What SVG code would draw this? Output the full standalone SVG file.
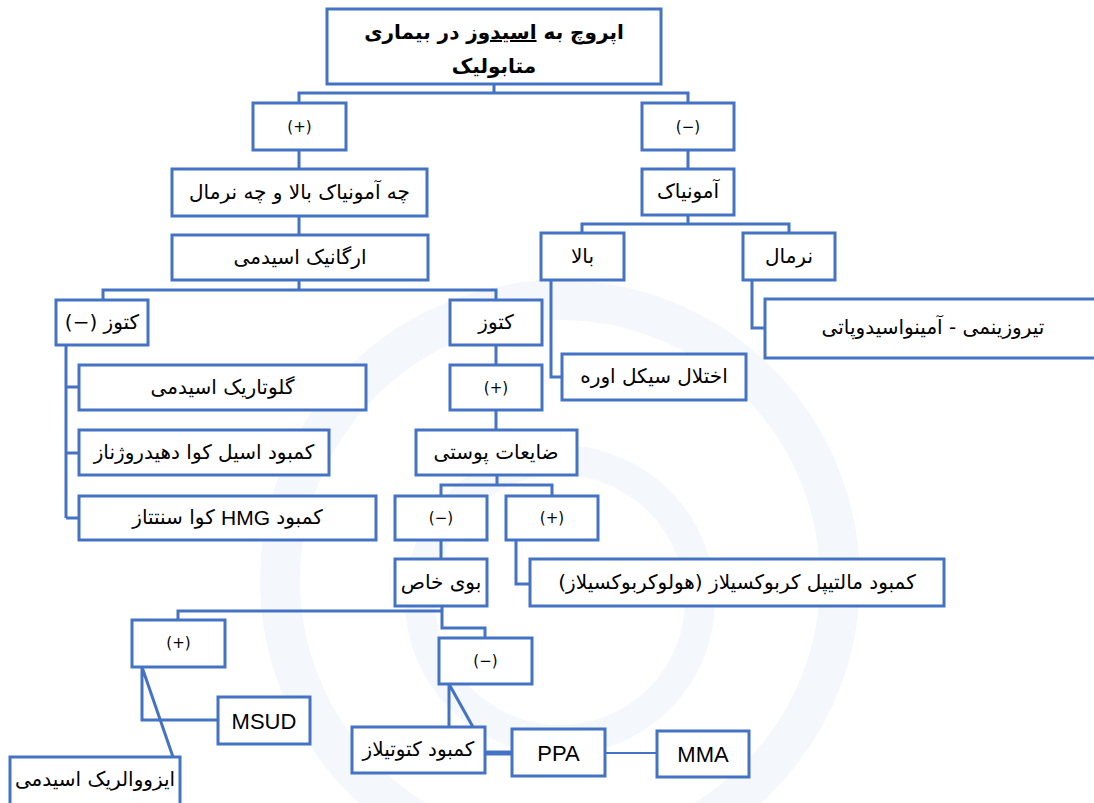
<svg xmlns="http://www.w3.org/2000/svg" width="1094" height="803" viewBox="0 0 1094 803">
<style>
.box{fill:#fff;stroke:#4472C4;stroke-width:3}
.con{fill:none;stroke:#4472C4;stroke-width:3}
.fa{font-family:"DejaVu Sans","Noto Sans",sans-serif;font-size:20px;fill:#000;text-anchor:middle;dominant-baseline:central;direction:rtl}
.sg{font-family:"DejaVu Sans",sans-serif;font-size:15px;fill:#000;text-anchor:middle;dominant-baseline:central}
.en{font-family:"Liberation Sans","DejaVu Sans",sans-serif;font-size:22px;fill:#000;text-anchor:middle;dominant-baseline:central}
.title{font-family:"DejaVu Sans","Noto Sans",sans-serif;font-size:20px;font-weight:bold;fill:#000;text-anchor:middle;direction:rtl}
</style>
<rect width="1094" height="803" fill="#fff"/>
<g id="watermark" fill="none" stroke="#f4f8fc">
<circle cx="560" cy="580" r="280" stroke-width="40"/>
<circle cx="560" cy="600" r="140" stroke-width="30"/>
</g>
<g id="connectors">
<path class="con" d="M494,84 V93 M299,103 V93 H688 V103"/>
<path class="con" d="M299,150 V169 M299,216 V235 M299,280 V290 M103,300 V290 H496 V300"/>
<path class="con" d="M496,345 V365 M496,410 V430 M497,475 V485 M441,496 V485 H552 V496"/>
<path class="con" d="M441,540 V559 M516,540 V584 H530"/>
<path class="con" d="M442,606 V628 H485 V638 M442,611 H178 V620"/>
<path class="con" d="M142,667 V720 H218 M142,667 L173,757"/>
<path class="con" d="M449,684 V727 M449,684 L473,727"/>
<path class="con" d="M485,753 H512" style="stroke-width:5"/>
<path class="con" d="M605,753 H657" style="stroke-width:2"/>
<path class="con" d="M66,345 V518 M66,387 H79 M66,453 H79 M66,518 H79"/>
<path class="con" d="M688,150 V169 M688,215 V224 M582,233 V224 H789 V233"/>
<path class="con" d="M551,280 V377 H562 M752,280 V328 H765"/>
</g>
<g id="n-title"><rect class="box" x="327" y="9" width="334" height="75"/>
<text class="title" x="494" y="39">اپروچ به <tspan style="text-decoration:underline">اسیدوز</tspan> در بیماری</text>
<text class="title" x="494" y="73">متابولیک</text></g>
<g id="n-pos1"><rect class="box" x="253" y="103" width="93" height="47"/><text class="sg" x="299.5" y="127">(+)</text></g>
<g id="n-neg1"><rect class="box" x="642" y="103" width="92" height="47"/><text class="sg" x="688" y="127">(−)</text></g>
<g id="n-both"><rect class="box" x="172" y="169" width="255" height="47"/><text class="fa" x="299.5" y="192">چه آمونیاک بالا و چه نرمال</text></g>
<g id="n-organic"><rect class="box" x="172" y="235" width="256" height="45"/><text class="fa" x="300" y="257">ارگانیک اسیدمی</text></g>
<g id="n-ketoneg"><rect class="box" x="56" y="300" width="92" height="45"/><text class="fa" x="102" y="322">کتوز (−)</text></g>
<g id="n-keto"><rect class="box" x="450" y="300" width="92" height="45"/><text class="fa" x="496" y="322">کتوز</text></g>
<g id="n-pos2"><rect class="box" x="450" y="365" width="92" height="45"/><text class="sg" x="496" y="388">(+)</text></g>
<g id="n-skin"><rect class="box" x="416" y="430" width="161" height="45"/><text class="fa" x="496" y="452">ضایعات پوستی</text></g>
<g id="n-neg2"><rect class="box" x="395" y="496" width="92" height="44"/><text class="sg" x="441" y="518">(−)</text></g>
<g id="n-pos3"><rect class="box" x="506" y="496" width="92" height="44"/><text class="sg" x="552" y="518">(+)</text></g>
<g id="n-odor"><rect class="box" x="395" y="559" width="92" height="47"/><text class="fa" x="441" y="582">بوی خاص</text></g>
<g id="n-mcd"><rect class="box" x="530" y="559" width="414" height="47"/><text class="fa" x="737" y="582">کمبود مالتیپل کربوکسیلاز (هولوکربوکسیلاز)</text></g>
<g id="n-pos4"><rect class="box" x="132" y="620" width="93" height="47"/><text class="sg" x="178.5" y="643">(+)</text></g>
<g id="n-msud"><rect class="box" x="218" y="697" width="92" height="47"/><text class="en" x="264" y="721">MSUD</text></g>
<g id="n-iva"><rect class="box" x="10" y="757" width="170" height="56"/><text class="fa" x="95" y="779">ایزووالریک اسیدمی</text></g>
<g id="n-neg3"><rect class="box" x="439" y="638" width="93" height="46"/><text class="sg" x="485.5" y="661">(−)</text></g>
<g id="n-ketolase"><rect class="box" x="352" y="727" width="133" height="46"/><text class="fa" x="418.5" y="749">کمبود کتوتیلاز</text></g>
<g id="n-ppa"><rect class="box" x="512" y="729" width="93" height="47"/><text class="en" x="558.5" y="753">PPA</text></g>
<g id="n-mma"><rect class="box" x="657" y="731" width="92" height="46"/><text class="en" x="703" y="754">MMA</text></g>
<g id="n-glut"><rect class="box" x="79" y="365" width="287" height="45"/><text class="fa" x="222.5" y="387">گلوتاریک اسیدمی</text></g>
<g id="n-acyl"><rect class="box" x="79" y="430" width="250" height="45"/><text class="fa" x="204" y="452">کمبود اسیل کوا دهیدروژناز</text></g>
<g id="n-hmg"><rect class="box" x="79" y="496" width="297" height="44"/><text class="fa" x="227.5" y="517">کمبود <tspan style="font-family:'Liberation Sans',sans-serif;font-size:21px">HMG</tspan> کوا سنتتاز</text></g>
<g id="n-ammonia"><rect class="box" x="642" y="169" width="92" height="46"/><text class="fa" x="688" y="191">آمونیاک</text></g>
<g id="n-high"><rect class="box" x="541" y="233" width="83" height="47"/><text class="fa" x="582.5" y="256">بالا</text></g>
<g id="n-normal"><rect class="box" x="743" y="233" width="92" height="47"/><text class="fa" x="789" y="256">نرمال</text></g>
<g id="n-urea"><rect class="box" x="562" y="354" width="184" height="46"/><text class="fa" x="654" y="376">اختلال سیکل اوره</text></g>
<g id="n-tyro"><rect class="box" x="765" y="299" width="340" height="59"/><text class="fa" x="933" y="327">تیروزینمی - آمینواسیدوپاتی</text></g>
</svg>
